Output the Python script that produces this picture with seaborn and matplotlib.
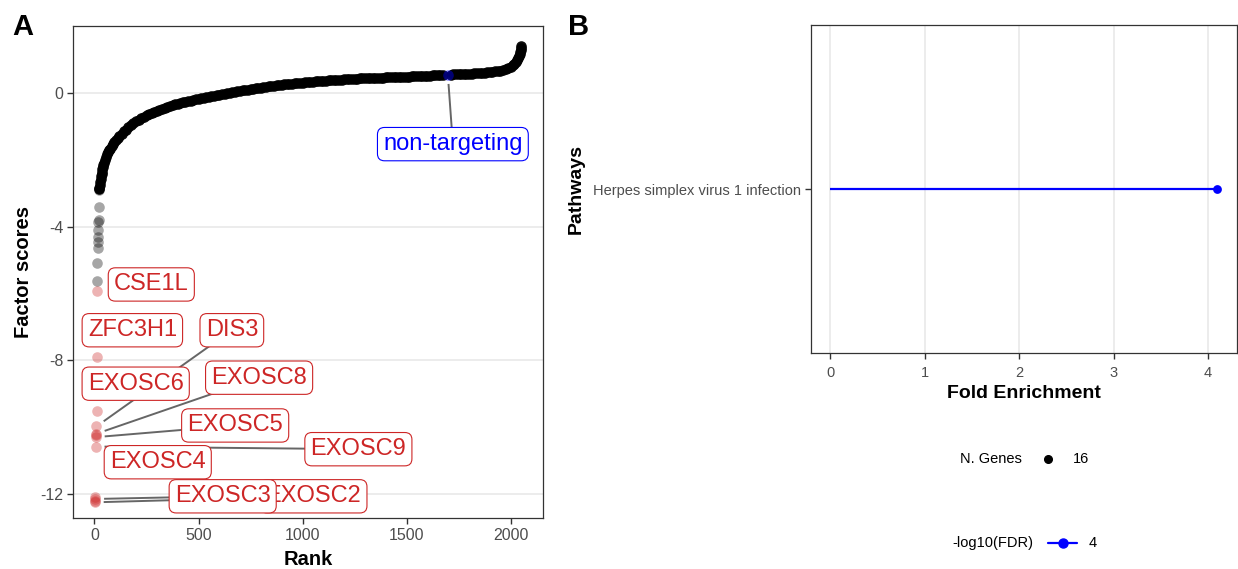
import matplotlib
matplotlib.use("Agg")
import numpy as np
import pandas as pd
import matplotlib.pyplot as plt
import seaborn as sns
from matplotlib.lines import Line2D

# ---------------- Panel A data ----------------
hit_rank = [1, 2, 3, 4, 5, 6, 7, 8, 9, 10, 11, 12]
hit_score = [-12.25, -12.2, -12.15, -12.1, -10.58, -10.3, -10.25, -10.2, -9.98, -9.53, -7.9, -5.93]
hit_gene = ["EXOSC2", None, "EXOSC3", None, "EXOSC9", "EXOSC5", "EXOSC4", "EXOSC8",
            "DIS3", "EXOSC6", "ZFC3H1", "CSE1L"]

tail_rank = [13, 14, 15, 16, 17, 18, 19, 20, 21, 22]
tail_score = [-5.62, -5.08, -4.65, -4.45, -4.30, -4.10, -3.85, -3.80, -3.41, -2.91]

body_rank = [23, 24, 26, 28, 30, 32, 34, 36, 38, 40, 43, 46,
             50, 55, 60, 65, 70, 75, 82, 89, 96, 104, 112, 120, 130, 140, 150, 162, 175, 187, 200, 212, 225,
             237, 250, 262, 275, 287, 300, 312, 325, 337, 350, 362, 375, 387, 400, 412, 425, 437, 450,
             462, 475, 487, 500, 512, 525, 537, 550, 562, 575, 587, 600, 612, 625, 637, 650, 662, 675,
             687, 700, 712, 725, 737, 750, 762, 775, 787, 800, 812, 825, 837, 850, 862, 875, 887, 900,
             912, 925, 937, 950, 962, 975, 987, 1000, 1012, 1025, 1037, 1050, 1062, 1075, 1087,
             1100, 1112, 1125, 1137, 1150, 1162, 1175, 1187, 1200, 1212, 1225, 1237, 1250, 1262,
             1275, 1287, 1300, 1312, 1325, 1337, 1350, 1362, 1375, 1387, 1400, 1412, 1425, 1437,
             1450, 1462, 1475, 1487, 1500, 1512, 1525, 1537, 1550, 1562, 1575, 1587, 1600, 1612,
             1625, 1637, 1650, 1662, 1675, 1712, 1725, 1737, 1750, 1762, 1775, 1787, 1800,
             1812, 1825, 1837, 1850, 1862, 1875, 1887, 1900, 1912, 1925, 1937, 1950, 1962, 1975,
             1987, 2000, 2010, 2018, 2025, 2031, 2036, 2040, 2043, 2045, 2047, 2049, 2050]
body_score = [-2.88, -2.85, -2.75, -2.65, -2.56, -2.48, -2.41, -2.35, -2.28, -2.22, -2.15, -2.08,
              -2.00, -1.92, -1.84, -1.77, -1.72, -1.67, -1.60, -1.53, -1.47, -1.41, -1.35, -1.29, -1.22, -1.15, -1.10, -1.03, -0.96, -0.90, -0.85, -0.80, -0.75,
              -0.71, -0.67, -0.63, -0.60, -0.56, -0.53, -0.50, -0.47, -0.44, -0.42, -0.39, -0.37, -0.34, -0.32, -0.30, -0.28, -0.26, -0.25,
              -0.23, -0.21, -0.19, -0.18, -0.16, -0.15, -0.13, -0.12, -0.10, -0.09, -0.07, -0.06, -0.04, -0.03, -0.01, 0.00, 0.02, 0.03,
              0.05, 0.06, 0.08, 0.09, 0.10, 0.11, 0.13, 0.14, 0.15, 0.16, 0.18, 0.19, 0.20, 0.21, 0.22, 0.23, 0.24, 0.25,
              0.26, 0.27, 0.28, 0.28, 0.29, 0.30, 0.31, 0.31, 0.32, 0.33, 0.33, 0.34, 0.35, 0.35, 0.36,
              0.37, 0.37, 0.38, 0.38, 0.39, 0.39, 0.40, 0.40, 0.41, 0.41, 0.42, 0.42, 0.43, 0.43,
              0.44, 0.44, 0.45, 0.45, 0.45, 0.45, 0.46, 0.46, 0.46, 0.46, 0.47, 0.47, 0.48, 0.48,
              0.48, 0.48, 0.49, 0.49, 0.49, 0.49, 0.50, 0.50, 0.51, 0.51, 0.52, 0.52, 0.52, 0.52,
              0.53, 0.53, 0.54, 0.54, 0.54, 0.55, 0.56, 0.56, 0.56, 0.56, 0.57, 0.57, 0.58,
              0.58, 0.59, 0.59, 0.60, 0.60, 0.61, 0.62, 0.63, 0.64, 0.65, 0.66, 0.67, 0.69, 0.71,
              0.74, 0.78, 0.83, 0.88, 0.94, 1.00, 1.06, 1.12, 1.18, 1.23, 1.28, 1.34, 1.40]

nt_rank = [1698]
nt_score = [0.54]
nt_label = "non-targeting"

# ---------------- Panel B data ----------------
pathways = ["Herpes simplex virus 1 infection"]
fold_enrichment = [4.1]
n_genes = [16]
neg_log10_fdr = [4]

# ---------------- style ----------------
sns.set_theme(style="white")
plt.rcParams["font.family"] = ["Liberation Sans", "DejaVu Sans"]
plt.rcParams["text.color"] = "black"
plt.rcParams["axes.labelcolor"] = "black"

RED = "#CD2626"
GRID = "#EBEBEB"
SPINE = "#333333"
TICKC = "#4D4D4D"
MS = 58

fig = plt.figure(figsize=(12.38, 5.69), dpi=100)
axA = fig.add_axes([0.059, 0.0896, 0.3796, 0.8644])
axB = fig.add_axes([0.655, 0.3796, 0.344, 0.5764])

body = pd.DataFrame({"Rank": body_rank, "Score": body_score})
tail = pd.DataFrame({"Rank": tail_rank, "Score": tail_score})
hits = pd.DataFrame({"Rank": hit_rank, "Score": hit_score, "Gene": hit_gene})
nt = pd.DataFrame({"Rank": nt_rank, "Score": nt_score})

sns.scatterplot(data=body, x="Rank", y="Score", color="black", alpha=0.95, s=MS,
                linewidth=0, ax=axA, zorder=3)
sns.scatterplot(data=tail, x="Rank", y="Score", color="black", alpha=0.35, s=MS,
                linewidth=0, ax=axA, zorder=3)
sns.scatterplot(data=hits, x="Rank", y="Score", color=RED, alpha=0.35, s=MS,
                linewidth=0, ax=axA, zorder=3)
sns.scatterplot(data=nt, x="Rank", y="Score", color="blue", alpha=0.45, s=MS,
                linewidth=0, ax=axA, zorder=4)

axA.set_xlim(-103, 2155)
axA.set_ylim(-12.72, 2.0)
axA.set_xticks([0, 500, 1000, 1500, 2000])
axA.set_yticks([0, -4, -8, -12])
axA.set_yticklabels(["0", "-4", "-8", "-12"])
axA.grid(axis="y", color=GRID, linewidth=1.3, zorder=0)
axA.set_axisbelow(True)
axA.set_xlabel("Rank", fontsize=14.5, fontweight="bold", labelpad=5)
axA.set_ylabel("Factor scores", fontsize=14.5, fontweight="bold", labelpad=5)

# label layout (label centre positions in data units) and whether a segment is drawn
label_layout = {
    "CSE1L": (273, -5.73, False),
    "ZFC3H1": (182, -7.10, False),
    "DIS3": (660, -7.10, True),
    "EXOSC6": (198, -8.70, False),
    "EXOSC8": (791, -8.52, True),
    "EXOSC5": (676, -9.95, True),
    "EXOSC9": (1268, -10.66, True),
    "EXOSC4": (304, -11.05, False),
    "EXOSC2": (1052, -12.07, True),
    "EXOSC3": (616, -12.07, True),
}

fig.canvas.draw()
def seg(ax, x0, y0, x1, y1, pad_px=9):
    p0 = ax.transData.transform((x0, y0))
    p1 = ax.transData.transform((x1, y1))
    d = p1 - p0
    d = d / np.hypot(*d)
    s = p0 + d * pad_px
    sx, sy = ax.transData.inverted().transform(s)
    ax.plot([sx, x1], [sy, y1], color="#666666", lw=1.4, zorder=5, solid_capstyle="butt")

LBL = dict(fontsize=17, ha="center", va="center")
order = ["EXOSC2", "EXOSC3", "EXOSC9", "EXOSC4", "EXOSC5", "EXOSC8", "EXOSC6", "DIS3", "ZFC3H1", "CSE1L"]
z = 6
for g in order:
    row = hits[hits["Gene"] == g].iloc[0]
    lx, ly, draw_seg = label_layout[g]
    if draw_seg:
        seg(axA, row["Rank"], row["Score"], lx, ly)
    axA.text(lx, ly, g, color=RED, zorder=z + 1,
             bbox=dict(boxstyle="round,pad=0.24,rounding_size=0.3", fc="white", ec=RED, lw=0.8),
             **LBL)
    z += 2

seg(axA, nt_rank[0], nt_score[0], 1722, -1.53)
axA.text(1722, -1.53, nt_label, color="blue", zorder=40,
         bbox=dict(boxstyle="round,pad=0.24,rounding_size=0.3", fc="white", ec="blue", lw=0.8),
         **LBL)

# ---------------- Panel B ----------------
dfB = pd.DataFrame({"Pathway": pathways, "Fold": fold_enrichment, "Genes": n_genes,
                    "FDR": neg_log10_fdr})
axB.hlines(y=np.arange(len(dfB)), xmin=0, xmax=dfB["Fold"], color="blue", lw=1.6, zorder=3)
sns.scatterplot(data=dfB, x="Fold", y="Pathway", color="blue", s=40, linewidth=0,
                ax=axB, zorder=4, legend=False)
axB.set_xlim(-0.205, 4.305)
axB.set_ylim(-1, 1)
axB.set_xticks([0, 1, 2, 3, 4])
axB.grid(axis="x", color=GRID, linewidth=1.3, zorder=0)
axB.grid(axis="y", visible=False)
axB.set_axisbelow(True)
axB.set_xlabel("Fold Enrichment", fontsize=14, fontweight="bold", labelpad=4)
axB.set_ylabel("Pathways", fontsize=14, fontweight="bold", labelpad=6)

for ax in (axA, axB):
    for sp in ax.spines.values():
        sp.set_color(SPINE)
        sp.set_linewidth(0.9)
    ax.tick_params(axis="both", which="major", length=4, width=1.0, color=SPINE,
                   labelcolor=TICKC, bottom=True, left=True, pad=3)
axA.tick_params(labelsize=11.5)
axB.tick_params(labelsize=10.5)
axB.tick_params(axis="x", pad=5)

# legends (manual, ggplot-like)
fig.text(0.7755, 0.1933, "N. Genes", fontsize=10.5, va="center", ha="left")
fig.add_artist(Line2D([0.8463], [0.1933], marker="o", color="black", markersize=5.5,
                      linestyle="none", transform=fig.transFigure))
fig.text(0.8667, 0.1933, str(n_genes[0]), fontsize=10.5, va="center", ha="left")

fig.text(0.769, 0.0462, "-log10(FDR)", fontsize=10.5, va="center", ha="left")
fig.add_artist(Line2D([0.8465, 0.870], [0.0462, 0.0462], color="blue", lw=1.6,
                      transform=fig.transFigure))
fig.add_artist(Line2D([0.8584], [0.0462], marker="o", color="blue", markersize=6.5,
                      linestyle="none", transform=fig.transFigure))
fig.text(0.8796, 0.0462, str(neg_log10_fdr[0]), fontsize=10.5, va="center", ha="left")

# panel tags
fig.text(0.0097, 0.977, "A", fontsize=21, fontweight="bold", va="top", ha="left")
fig.text(0.4588, 0.977, "B", fontsize=21, fontweight="bold", va="top", ha="left")

fig.savefig("out.png", dpi=100)
